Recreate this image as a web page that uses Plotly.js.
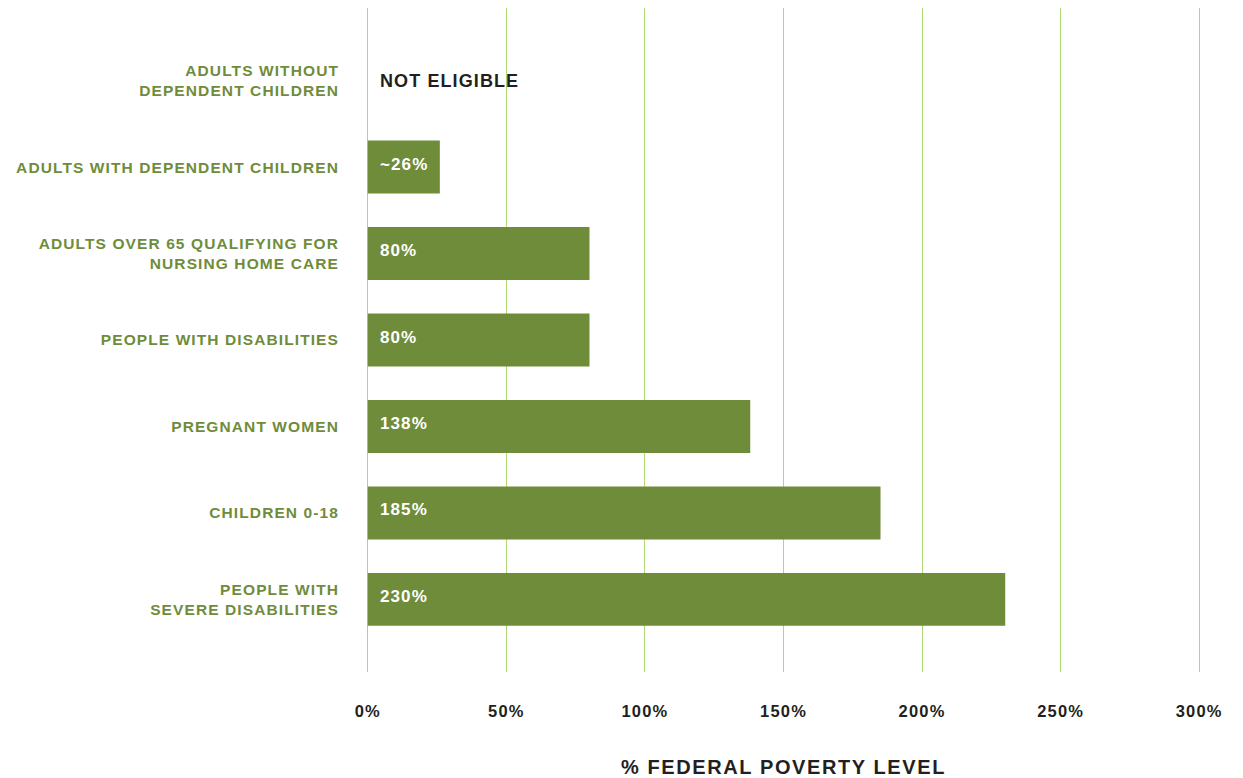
<!DOCTYPE html>
<html>
<head>
<meta charset="utf-8">
<script src="https://cdn.plot.ly/plotly-3.0.1.min.js"></script>
<style>
html,body{margin:0;padding:0;background:#fff;}
#chart{width:1243px;height:778px;}
.ytick text{letter-spacing:1.1px;}
.xtick text{letter-spacing:1.2px;}
.xtitle{letter-spacing:1.6px;}
.annotation-text{letter-spacing:1.1px;}
</style>
</head>
<body>
<div id="chart"></div>
<script>
const categories = [
  "ADULTS WITHOUT<br>DEPENDENT CHILDREN",
  "ADULTS WITH DEPENDENT CHILDREN",
  "ADULTS OVER 65 QUALIFYING FOR<br>NURSING HOME CARE",
  "PEOPLE WITH DISABILITIES",
  "PREGNANT WOMEN",
  "CHILDREN 0-18",
  "PEOPLE WITH<br>SEVERE DISABILITIES"
];
const values = [0, 26, 80, 80, 138, 185, 230];
const valueLabels = ["NOT ELIGIBLE", "~26%", "80%", "80%", "138%", "185%", "230%"];
const tickValues = [0, 50, 100, 150, 200, 250, 300];
const tickLabels = ["0%", "50%", "100%", "150%", "200%", "250%", "300%"];

const green = "#6f8c3a";
const dark = "#231f20";
const gridGreen = "rgb(176,216,112)";
const FONT = "Liberation Sans, Arial, sans-serif";

const trace = {
  type: "bar",
  orientation: "h",
  y: categories,
  x: values,
  marker: {color: green},
  hoverinfo: "skip"
};

const annotations = valueLabels.map((t, i) => ({
  x: 0,
  y: categories[i],
  xref: "x",
  yref: "y",
  text: t,
  showarrow: false,
  xanchor: "left",
  yanchor: "middle",
  xshift: 10,
  yshift: values[i] === 0 ? 0 : 3,
  font: {
    family: FONT,
    size: values[i] === 0 ? 18 : 17,
    color: values[i] === 0 ? dark : "#ffffff",
    weight: 700
  }
}));

const layout = {
  width: 1243,
  height: 778,
  margin: {l: 365, r: 41, t: 8, b: 106},
  paper_bgcolor: "#ffffff",
  plot_bgcolor: "#ffffff",
  bargap: 0.387,
  showlegend: false,
  font: {family: FONT},
  annotations: annotations,
  xaxis: {
    range: [-1, 301],
    tickvals: tickValues,
    ticktext: tickLabels,
    showgrid: true,
    gridcolor: gridGreen,
    gridwidth: 1,
    zeroline: false,
    showline: false,
    ticks: "",
    ticklabelstandoff: 27,
    tickfont: {family: FONT, size: 16.5, color: dark, weight: 700},
    title: {
      text: "% FEDERAL POVERTY LEVEL",
      font: {family: FONT, size: 20, color: dark, weight: 700},
      standoff: 41
    },
    fixedrange: true
  },
  yaxis: {
    type: "category",
    range: [6.84, -0.84],
    showgrid: false,
    zeroline: false,
    showline: false,
    ticks: "",
    ticklabelstandoff: 25,
    tickfont: {family: FONT, size: 15.5, color: green, weight: 700},
    fixedrange: true
  }
};

Plotly.newPlot("chart", [trace], layout, {displayModeBar: false, staticPlot: true});
</script>
</body>
</html>
